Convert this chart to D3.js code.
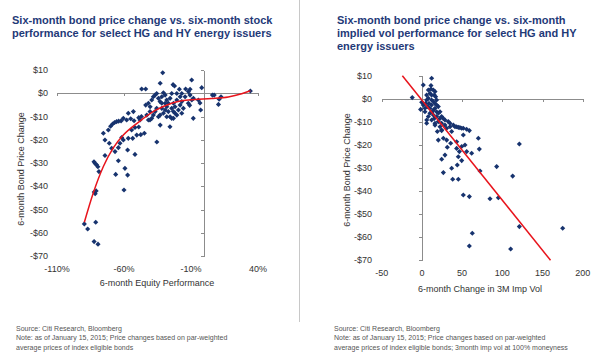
<!DOCTYPE html>
<html><head><meta charset="utf-8">
<script src="https://cdn.jsdelivr.net/npm/d3@7"></script>
<style>
html,body{margin:0;padding:0;background:#fff;}
svg{display:block;font-family:"Liberation Sans",Arial,sans-serif;}
</style></head>
<body><svg id="c" width="600" height="360"></svg>
<script>
// ---------- DATA ----------
const leftTitle = ["Six-month bond price change vs. six-month stock", "performance for select HG and HY energy issuers"];
const rightTitle = ["Six-month bond price change vs. six-month", "implied vol performance for select HG and HY", "energy issuers"];
const leftXTicks = [-110, -60, -10, 40];
const rightXTicks = [-50, 0, 50, 100, 150, 200];
const yTicks = [10, 0, -10, -20, -30, -40, -50, -60, -70];
const leftXLabel = "6-month Equity Performance";
const rightXLabel = "6-month Change in 3M Imp Vol";
const yLabel = "6-month Bond Price Change";
const leftNotes = ["Source: Citi Research, Bloomberg", "Note: as of January 15, 2015; Price changes based on par-weighted", "average prices of index eligible bonds"];
const rightNotes = ["Source: Citi Research, Bloomberg", "Note: as of January 15, 2015; Price changes based on par-weighted", "average prices of index eligible bonds; 3month imp vol at 100% moneyness"];

// equity performance (%) vs bond price change ($)
const equityPoints = [
[-89.6,-56.2],[-87.1,-58.4],[-81.1,-55.5],[-82.3,-63.8],[-79.4,-64.9],
[-82.2,-42.5],[-81.5,-43.2],[-80.8,-42.0],
[-82.4,-29.5],[-81.5,-30.2],[-80.5,-30.8],[-79.5,-31.6],[-78.7,-33.7],
[-75.4,-17.2],[-74.2,-20.1],[-74.2,-26.8],[-71.0,-21.5],[-69.2,-23.7],[-66.7,-25.1],
[-71.7,-15.8],[-70.0,-14.2],[-68.5,-13.2],[-67.0,-12.6],[-65.5,-12.2],[-64.0,-12.0],[-62.2,-11.9],
[-64.2,-29.0],[-66.2,-34.9],[-59.3,-32.3],[-57.3,-35.2],[-60.0,-41.6],
[-57.3,-24.4],[-51.8,-26.3],[-64.2,-23.4],[-63.0,-21.5],[-61.7,-19.0],[-60.5,-20.1],
[-58.0,-11.5],[-60.5,-10.8],[-56.8,-8.6],[-53.0,-7.9],[-52.5,-11.8],[-51.8,-14.7],
[-50.5,-18.0],[-53.5,-19.4],[-56.8,-19.4],[-54.3,-15.8],[-55.0,-11.0],
[-49.0,-10.5],[-47.0,-10.0],[-48.0,-11.5],[-44.8,-17.2],[-49.0,-14.5],[-47.5,-17.8],
[-40.6,-7.9],[-40.6,-11.5],[-35.5,-21.0],[-33.0,-13.7],[-25.7,-14.4],[-24.4,-10.8],
[-31.1,8.8],[-33.0,4.3],[-9.5,5.7],[-23.4,3.7],[-22.3,3.1],[-46.8,1.8],[-43.8,1.8],
[-2.0,2.4],[-18.7,1.7],[-14.0,1.8],[-10.7,1.7],
[6.0,-0.8],[7.3,-0.8],[12.4,-1.5],[11.0,-2.6],[10.5,-4.8],[34.3,1.0],
[-4.5,-2.9],[-3.3,-4.2],[-2.8,-7.2],[-8.3,-10.8],[-12.0,-4.3],[-11.0,-5.2],
[-43.8,-5.1],[-41.8,-4.3],[-40.5,-5.8],[-39.3,-2.9],[-38.1,-1.5],[-36.8,-0.8],[-35.6,-0.1],
[-34.3,-2.2],[-33.1,-3.6],[-31.8,-1.5],[-30.6,0.2],[-29.3,-0.8],[-28.1,-2.9],[-26.9,-4.3],
[-25.6,-2.2],[-24.4,-0.1],[-23.1,-4.3],[-21.9,-5.8],[-20.6,-2.9],[-19.4,-7.2],[-18.1,-5.1],
[-16.9,-8.6],[-15.7,-6.5],[-21.9,-8.6],[-23.1,-7.9],[-26.9,-7.9],[-29.3,-7.2],[-30.6,-8.6],
[-31.8,-6.5],[-35.6,-6.5],[-36.8,-7.9],[-38.1,-9.4],[-39.3,-10.8],[-43.0,-9.4],[-41.8,-11.5],
[-34.3,-10.1],[-33.1,-9.4],[-28.1,-10.1],[-25.6,-10.1],[-24.4,-6.5],[-20.6,-0.1],[-18.1,-1.5],
[-16.9,-0.1],[-14.4,-1.5],[-11.9,0.7],[-10.7,-0.8],[-9.4,-2.9],[-8.2,-2.2],[-16.9,-3.6],
[-20.6,-9.4],[-23.1,-10.8],[-28.1,-5.8],[-29.3,-4.3],[-31.8,-4.3]
];
// fitted trend
const equityTrend = [[-89.6,-55.5],[-83,-43],[-75.4,-31.5],[-68,-23.5],[-60.5,-18],[-49.3,-12.5],[-37,-7.5],[-24.4,-4.3],[-17,-3.2],[-7,-2.7],[5.4,-2.3],[17.8,-1.6],[27.8,-0.2],[34.3,1.1]];

// implied vol change vs bond price change ($)
const volPoints = [
[-12.0,0.5],[-1.6,-4.6],[1.7,6.0],[12.1,8.9],[-0.3,-1.5],[3.8,-5.6],[5.9,-10.6],[6.0,-9.2],
[8.0,3.8],[11.3,4.2],[14.2,3.8],[16.3,3.1],[15.4,1.6],[10.0,2.4],[5.9,1.6],[8.0,0.2],
[12.1,-0.5],[14.2,-1.2],[16.3,-2.0],[18.3,-0.5],[12.1,-2.7],[10.0,-4.1],[16.3,-4.1],[20.4,-3.4],
[18.3,-5.6],[22.5,-5.6],[14.2,-7.0],[18.3,-7.7],[24.5,-7.7],[26.6,-8.5],[28.7,-9.2],[32.8,-9.9],
[34.9,-10.6],[39.1,-11.4],[43.2,-12.1],[47.3,-12.5],[51.5,-12.8],[55.6,-13.2],[20.4,-9.9],[16.3,-10.6],
[12.1,-9.2],[8.0,-7.7],[22.5,-12.1],[28.7,-11.4],[30.8,-12.8],[24.5,-13.5],
[8.8,-2.0],[7.1,-3.4],[4.6,-2.0],[12.1,1.6],[12.9,-5.6],[15.4,-8.5],[10.0,-6.3],[18.3,-2.7],
[20.4,-6.3],[22.5,-8.5],[11.3,5.7],[5.9,-0.5],[3.8,-4.1],[24.5,-10.6],[14.2,-4.9],[17.1,0.9],[1.7,-2.7],
[121.2,-19.6],[70.2,-17.1],[71.4,-21.8],[59.0,-13.8],[93.0,-29.4],[112.9,-33.5],[72.3,-31.3],
[84.7,-43.3],[95.1,-42.9],[121.2,-55.4],[175.1,-56.1],[62.7,-58.3],[59.0,-63.8],[110.4,-65.1],
[51.5,-41.7],[59.0,-42.4],[38.3,-34.9],[45.3,-34.9],[26.7,-32.0],[37.0,-30.1],[44.0,-28.7],
[49.5,-26.8],[24.6,-26.2],[28.7,-24.4],[45.3,-25.1],[43.2,-21.5],[49.5,-20.7],[53.6,-20.0],
[61.9,-23.6],[55.7,-22.9],[31.6,-21.0],[46.6,-22.9],[26.7,-17.1],[30.8,-17.9],[20.4,-17.9],
[37.0,-14.2],[51.5,-15.7],[35.8,-19.3],[43.2,-18.6],[19.2,-14.2],[24.6,-13.8],[16.3,-11.4],
[35.0,-12.1],[41.2,-12.1],[45.3,-12.4],[49.5,-12.8]
];
const volTrend = [[-24.3,10],[160,-70]];

// ---------- DRAW ----------
const svg = d3.select("#c");
const navy = "#1f3a78";
const dotColor = "#17336e";
const axisColor = "#8c8c8c";
const textColor = "#333";

// divider
svg.append("line").attr("x1",299.5).attr("x2",299.5).attr("y1",0).attr("y2",322)
  .attr("stroke","#c8c8c8").attr("stroke-width",1);

function chart(cfg){
  const g = svg.append("g");
  // title
  g.append("text").attr("x",cfg.titleX).attr("y",24)
    .attr("font-size",11).attr("font-weight","bold").attr("fill",navy)
    .selectAll("tspan").data(cfg.title).join("tspan")
    .attr("x",cfg.titleX).attr("dy",(d,i)=>i===0?0:13).text(d=>d);

  const x = d3.scaleLinear().domain(cfg.xDomain).range(cfg.xRange);
  const y = d3.scaleLinear().domain([-70,10]).range(cfg.yRange);

  // x axis along y=0
  const xa = g.append("g").attr("transform",`translate(0,${y(0)})`)
    .call(d3.axisBottom(x).tickValues(cfg.xTicks).tickSize(3).tickSizeOuter(0).tickFormat(""));
  // y axis along x=0
  const ya = g.append("g").attr("transform",`translate(${x(0)},0)`)
    .call(d3.axisLeft(y).tickValues(yTicks).tickSize(3).tickSizeOuter(0).tickFormat(""));
  [xa,ya].forEach(a=>{a.selectAll("path,line").attr("stroke",axisColor).attr("shape-rendering","crispEdges");});

  // tick labels at the low edge
  g.append("g").selectAll("text").data(cfg.xTicks).join("text")
    .attr("x",d=>x(d)).attr("y",cfg.xLabY).attr("text-anchor","middle")
    .attr("font-size",9).attr("fill",textColor).text(cfg.xFmt);
  g.append("g").selectAll("text").data(yTicks).join("text")
    .attr("x",cfg.yLabX).attr("y",d=>y(d)).attr("dy","0.35em").attr("text-anchor","end")
    .attr("font-size",9).attr("fill",textColor).text(d=> d<0 ? "-$"+Math.abs(d) : "$"+d);

  // axis titles
  g.append("text").attr("x",cfg.xTitleX).attr("y",cfg.xTitleY).attr("text-anchor","middle")
    .attr("font-size",9).attr("fill",textColor).text(cfg.xLabel);
  g.append("text").attr("transform",`translate(${cfg.yTitleX},${cfg.yTitleY}) rotate(-90)`)
    .attr("text-anchor","middle").attr("dy","0.35em")
    .attr("font-size",9).attr("fill",textColor).text(yLabel);

  // points
  const sym = d3.symbol().type(d3.symbolSquare).size(13);
  g.append("g").selectAll("path").data(cfg.points).join("path")
    .attr("d",sym).attr("fill",dotColor)
    .attr("transform",d=>`translate(${x(d[0])},${y(d[1])}) rotate(45)`);

  // trend
  g.append("path").datum(cfg.trend)
    .attr("d",d3.line().x(d=>x(d[0])).y(d=>y(d[1])).curve(d3.curveMonotoneX))
    .attr("fill","none").attr("stroke","#e8141c").attr("stroke-width",1.5);

  // notes
  g.append("g").selectAll("text").data(cfg.notes).join("text")
    .attr("x",cfg.noteX).attr("y",(d,i)=>331+i*9.3)
    .attr("font-size",7).attr("fill","#555").text(d=>d);
}

chart({
  title:leftTitle, titleX:12,
  xDomain:[-110,40], xRange:[57,258], yRange:[256,70],
  xTicks:leftXTicks, xFmt:d=>d+"%", xLabY:272, yLabX:48,
  xLabel:leftXLabel, xTitleX:157, xTitleY:286,
  yTitleX:21, yTitleY:169,
  points:equityPoints, trend:equityTrend, notes:leftNotes, noteX:16
});
chart({
  title:rightTitle, titleX:337,
  xDomain:[-50,200], xRange:[381.7,582.7], yRange:[260.3,75.7],
  xTicks:rightXTicks, xFmt:d=>d, xLabY:276, yLabX:372,
  xLabel:rightXLabel, xTitleX:480, xTitleY:292,
  yTitleX:347, yTitleY:170,
  points:volPoints, trend:volTrend, notes:rightNotes, noteX:334
});
</script></body></html>
